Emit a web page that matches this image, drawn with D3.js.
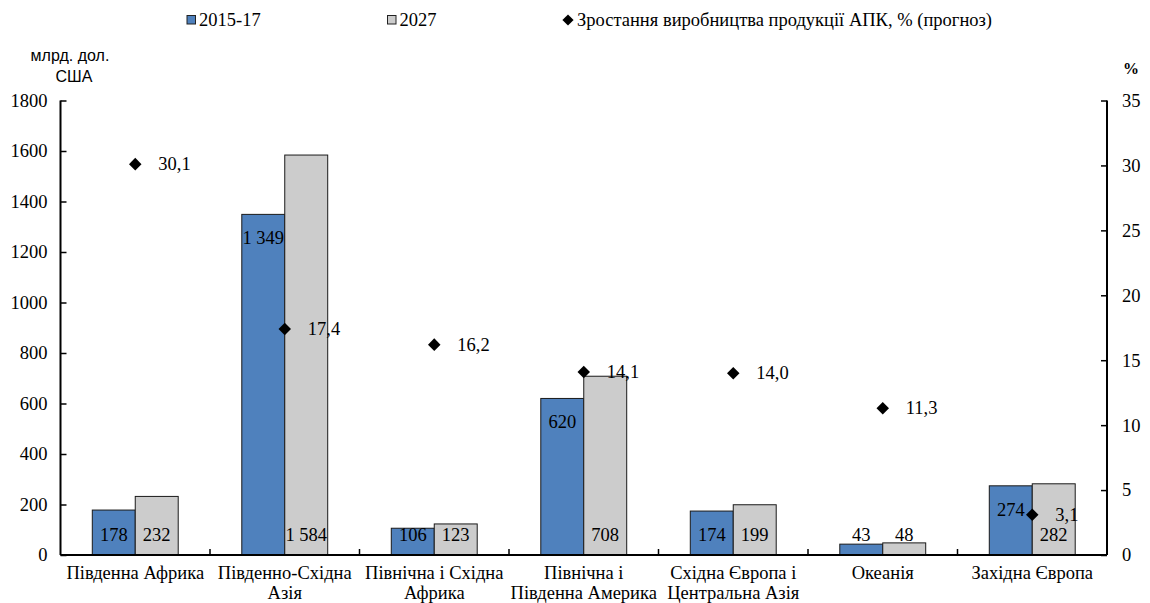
<!DOCTYPE html>
<html>
<head>
<meta charset="utf-8">
<script src="https://cdn.jsdelivr.net/npm/d3@7"></script>
<style>
  html, body { margin: 0; padding: 0; background: #fff; }
  svg { display: block; }
</style>
</head>
<body>
<svg id="chart" width="1150" height="603"></svg>
<script>
// Regions (two-line labels split with "\n")
const regions = [
  "Південна Африка",
  "Південно-Східна\nАзія",
  "Північна і Східна\nАфрика",
  "Північна і\nПівденна Америка",
  "Східна Європа і\nЦентральна Азія",
  "Океанія",
  "Західна Європа"
];
// Agricultural output, bln USD
const output2015 = [178, 1349, 106, 620, 174, 43, 274];
const output2027 = [232, 1584, 123, 708, 199, 48, 282];
// Projected growth of agri-food output, %
const growthPct = [30.1, 17.4, 16.2, 14.1, 14.0, 11.3, 3.1];

const leftTicks = [0, 200, 400, 600, 800, 1000, 1200, 1400, 1600, 1800];
const rightTicks = [0, 5, 10, 15, 20, 25, 30, 35];

const seriesNames = ["2015-17", "2027", "Зростання виробництва продукції АПК, % (прогноз)"];
const colors = { a: "#4F81BD", b: "#CCCCCC", line: "#1a1a1a" };

const SERIF = "Liberation Serif";
const SANS = "Liberation Sans";
const FS = 18.5;

const svg = d3.select("#chart");
const m = { left: 60.5, right: 1107, top: 100.5, bottom: 555 };

const x = d3.scaleBand().domain(regions).range([m.left, m.right]);
const inner = d3.scaleBand().domain(["a", "b"]).range([0, x.bandwidth()]).paddingInner(0).paddingOuter(0.74);
const yL = d3.scaleLinear().domain([0, 1800]).range([m.bottom, m.top]);
const yR = d3.scaleLinear().domain([0, 35]).range([m.bottom, m.top]);

const fmt = v => d3.format(",")(v).replace(",", " ");
const fmtPct = v => v.toFixed(1).replace(".", ",");

// Bars
const groups = svg.append("g").selectAll("g").data(regions).join("g")
  .attr("transform", d => `translate(${x(d)},0)`);

const barData = i => [
  { key: "a", v: output2015[i] },
  { key: "b", v: output2027[i] }
];

groups.each(function(d, i) {
  d3.select(this).selectAll("rect").data(barData(i)).join("rect")
    .attr("x", b => inner(b.key))
    .attr("y", b => yL(b.v))
    .attr("width", inner.bandwidth())
    .attr("height", b => yL(0) - yL(b.v))
    .attr("fill", b => colors[b.key])
    .attr("stroke", colors.line)
    .attr("stroke-width", 1);
});

// Bar value labels: large 2015-17 bars carry the label near the top, the rest near the base
groups.each(function(d, i) {
  d3.select(this).selectAll("text.val").data(barData(i)).join("text")
    .attr("class", "val")
    .attr("x", b => inner(b.key) + inner.bandwidth() / 2)
    .attr("y", b => (b.key === "a" && b.v > 250) ? yL(b.v) + 24 : yL(0) - 20)
    .attr("text-anchor", "middle")
    .attr("dominant-baseline", "central")
    .style("font-size", FS + "px")
    .text(b => fmt(b.v));
});

// Growth markers (diamonds) on the right axis
const diamond = d3.symbol().type(d3.symbolDiamond2).size(100);
svg.append("g").selectAll("path").data(growthPct).join("path")
  .attr("d", diamond)
  .attr("transform", (v, i) => `translate(${x(regions[i]) + x.bandwidth() / 2},${yR(v)})`)
  .attr("fill", "#000");

svg.append("g").selectAll("text").data(growthPct).join("text")
  .attr("x", (v, i) => x(regions[i]) + x.bandwidth() / 2 + 23)
  .attr("y", v => yR(v))
  .attr("dominant-baseline", "central")
  .style("font-size", FS + "px")
  .text(v => fmtPct(v));

// Axes
const axL = svg.append("g").attr("transform", `translate(${m.left},0)`)
  .call(d3.axisLeft(yL).tickValues(leftTicks).tickSize(-6).tickPadding(13).tickFormat(d3.format("d")));
const axR = svg.append("g").attr("transform", `translate(${m.right},0)`)
  .call(d3.axisRight(yR).tickValues(rightTicks).tickSize(-6).tickPadding(15));
const axB = svg.append("g").attr("transform", `translate(0,${m.bottom})`)
  .call(d3.axisBottom(x).tickSize(0).tickFormat(""));

[axL, axR, axB].forEach(a => {
  a.select(".domain").attr("stroke", "#000").attr("stroke-width", 2);
  a.selectAll(".tick line").attr("stroke", "#000").attr("stroke-width", 1.5);
  a.selectAll(".tick text").style("font-size", FS + "px").attr("fill", "#000");
});
axL.select(".domain").attr("d", `M0,${m.top}V${m.bottom}`);
axR.select(".domain").attr("d", `M0,${m.top}V${m.bottom}`);
axB.select(".domain").attr("d", `M${m.left},0H${m.right}`);

// Category separators on the base line
const bounds = regions.map(r => x(r)).slice(1);
svg.append("g").selectAll("line").data(bounds).join("line")
  .attr("x1", d => d).attr("x2", d => d)
  .attr("y1", m.bottom).attr("y2", m.bottom - 6)
  .attr("stroke", "#000").attr("stroke-width", 1.5);

// Category labels
svg.append("g").selectAll("text").data(regions).join("text")
  .attr("x", d => x(d) + x.bandwidth() / 2)
  .attr("y", 573)
  .attr("text-anchor", "middle")
  .attr("dominant-baseline", "central")
  .style("font-size", FS + "px")
  .each(function(d) {
    const lines = d.split("\n");
    d3.select(this).selectAll("tspan").data(lines).join("tspan")
      .attr("x", x(d) + x.bandwidth() / 2)
      .attr("dy", (l, k) => k === 0 ? 0 : 20)
      .text(l => l);
  });

// Right axis unit
svg.append("text")
  .attr("x", 1131).attr("y", 74)
  .attr("text-anchor", "middle")
  .style("font-size", "16px").style("font-weight", "bold")
  .text("%");

// Legend
const legend = svg.append("g");
const legendItems = [
  { name: seriesNames[0], kind: "rect", fill: colors.a, x: 187 },
  { name: seriesNames[1], kind: "rect", fill: colors.b, x: 387.5 },
  { name: seriesNames[2], kind: "diamond", fill: "#000", x: 562 }
];
legendItems.forEach(it => {
  if (it.kind === "rect") {
    legend.append("rect").attr("x", it.x).attr("y", 15.5).attr("width", 8.5).attr("height", 8.5)
      .attr("fill", it.fill).attr("stroke", "#222").attr("stroke-width", 1);
  } else {
    legend.append("path").attr("d", d3.symbol().type(d3.symbolDiamond2).size(80))
      .attr("transform", `translate(${it.x + 6},20)`).attr("fill", "#000");
  }
  legend.append("text").attr("x", it.x + (it.kind === "rect" ? 12 : 15)).attr("y", 20)
    .attr("dominant-baseline", "central")
    .style("font-size", "18.5px")
    .text(it.name);
});

// Serif face for every text except the left unit title
svg.selectAll("text").style("font-family", SERIF).attr("fill", "#000");

// Left axis unit (sans)
const unit = svg.append("text")
  .attr("text-anchor", "middle")
  .style("font-family", SANS)
  .style("font-size", "16px")
  .attr("fill", "#000");
unit.append("tspan").attr("x", 70).attr("y", 61).text("млрд. дол.");
unit.append("tspan").attr("x", 74).attr("y", 82).text("США");
</script>
</body>
</html>
